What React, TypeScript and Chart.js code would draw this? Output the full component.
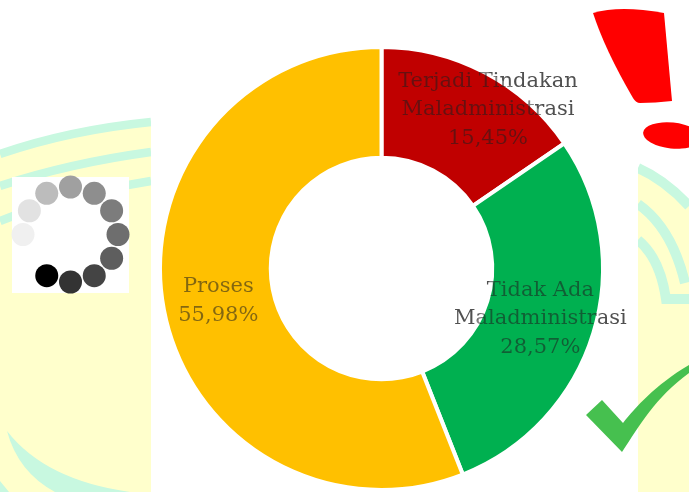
import { useEffect, useRef } from "react";
import { Chart, registerables } from "chart.js";

Chart.register(...registerables);

const categories = [
  ["Terjadi Tindakan", "Maladministrasi"],
  ["Tidak Ada", "Maladministrasi"],
  ["Proses"],
];
const shares = [15.45, 28.57, 55.98];
const shareLabels = ["15,45%", "28,57%", "55,98%"];
const sliceColors = ["#c00000", "#00b050", "#ffc000"];
const spinnerShades = [
  "#000000", "#333333", "#444444", "#5e5e5e", "#6e6e6e", "#7c7c7c",
  "#8e8e8e", "#a0a0a0", "#bcbcbc", "#e2e2e2", "#f0f0f0",
];

const CREAM = "#ffffcc";
const MINT = "#c8f8e0";

// Writes each slice's caption at the slice's mid-ring point: a translucent dark
// tint where it crosses a slice and solid grey where it runs off onto the page.
const sliceCaptions = {
  id: "sliceCaptions",
  afterDatasetsDraw(chart: Chart) {
    const { ctx } = chart;
    const arcs = chart.getDatasetMeta(0).data;
    const lineHeight = 28.5;
    const writeAll = (mode: GlobalCompositeOperation, color: string) => {
      ctx.globalCompositeOperation = mode;
      ctx.fillStyle = color;
      arcs.forEach((arc: any, i: number) => {
        const p = arc.getCenterPoint();
        const nudge = i === 0 ? { x: 29, y: -12 } : { x: 0, y: 1.5 };
        const lines = [...categories[i], shareLabels[i]];
        lines.forEach((line, j) => {
          const y = p.y + nudge.y + (j - (lines.length - 1) / 2) * lineHeight;
          ctx.fillText(line, p.x + nudge.x, y);
        });
      });
    };
    ctx.save();
    ctx.font = '21px "DejaVu Serif", serif';
    ctx.textAlign = "center";
    ctx.textBaseline = "middle";
    writeAll("source-atop", "rgba(30,30,30,0.55)");
    writeAll("destination-over", "#505050");
    ctx.restore();
  },
};

function Backdrop() {
  return (
    <svg
      width={689}
      height={492}
      style={{ position: "absolute", left: 0, top: 0 }}
    >
      <rect width={689} height={492} fill="#ffffff" />
      {/* left cream panel with its arcs */}
      <path d="M0 154 Q70 130 151 122 L151 492 L0 492 Z" fill={CREAM} />
      <g fill="none" stroke={MINT} strokeWidth={8.5}>
        <path d="M0 154 Q70 130 151 122" />
        <path d="M0 186 Q70 163 151 152" />
        <path d="M0 221 Q65 195 151 181" />
      </g>
      <path d="M7 431 Q45 480 130 492 L55 492 Q18 472 7 431 Z" fill={MINT} />
      <path d="M0 481 L9 492 L0 492 Z" fill={MINT} />
      {/* right cream panel with its arcs */}
      <path d="M638 168 Q665 180 689 206 L689 492 L638 492 Z" fill={CREAM} />
      <g fill="none" stroke={MINT} strokeWidth={10}>
        <path d="M638 168 Q665 180 689 206" />
        <path d="M638 204 Q672 228 685 283" />
        <path d="M638 240 Q660 258 666 299 L689 299" />
      </g>
      {/* white panel behind the ring */}
      <rect x={151} y={0} width={487} height={492} fill="#ffffff" />
      {/* loading spinner */}
      <rect x={12} y={177} width={117} height={116} fill="#ffffff" />
      {spinnerShades.map((shade, i) => {
        const turn = ((210 - 30 * i) * Math.PI) / 180;
        return (
          <circle
            key={i}
            cx={70.5 + 47.5 * Math.sin(turn)}
            cy={234.5 - 47.5 * Math.cos(turn)}
            r={11.5}
            fill={shade}
          />
        );
      })}
      {/* exclamation mark */}
      <path
        d="M593 13 Q620 5 664 13 L672 101 Q655 103 640 103 Q636 103 633 98 Q605 50 593 13 Z"
        fill="#ff0000"
      />
      <ellipse cx={672} cy={135.5} rx={29} ry={13} transform="rotate(6 672 135.5)" fill="#ff0000" />
      {/* tick mark */}
      <path
        d="M586 415 L602 400 L623 423 C635 408 655 385 689 365 L689 373 C655 398 640 425 622 452 Z"
        fill="#46c04f"
      />
    </svg>
  );
}

export default function App() {
  const canvasRef = useRef<HTMLCanvasElement>(null);

  useEffect(() => {
    document.body.style.margin = "0";
    const chart = new Chart(canvasRef.current!, {
      type: "doughnut",
      data: {
        labels: categories.map((c) => c.join(" ")),
        datasets: [
          {
            data: shares,
            backgroundColor: sliceColors,
            borderColor: "#ffffff",
            borderWidth: 4,
          },
        ],
      },
      options: {
        responsive: false,
        animation: false,
        cutout: "50%",
        layout: { padding: { left: 158, right: 84, top: 45, bottom: 0 } },
        plugins: { legend: { display: false }, tooltip: { enabled: false } },
      },
      plugins: [sliceCaptions],
    });
    return () => chart.destroy();
  }, []);

  return (
    <div style={{ position: "relative", width: 689, height: 492, overflow: "hidden" }}>
      <Backdrop />
      <canvas
        ref={canvasRef}
        width={689}
        height={492}
        style={{ position: "absolute", left: 0, top: 0 }}
      />
    </div>
  );
}
